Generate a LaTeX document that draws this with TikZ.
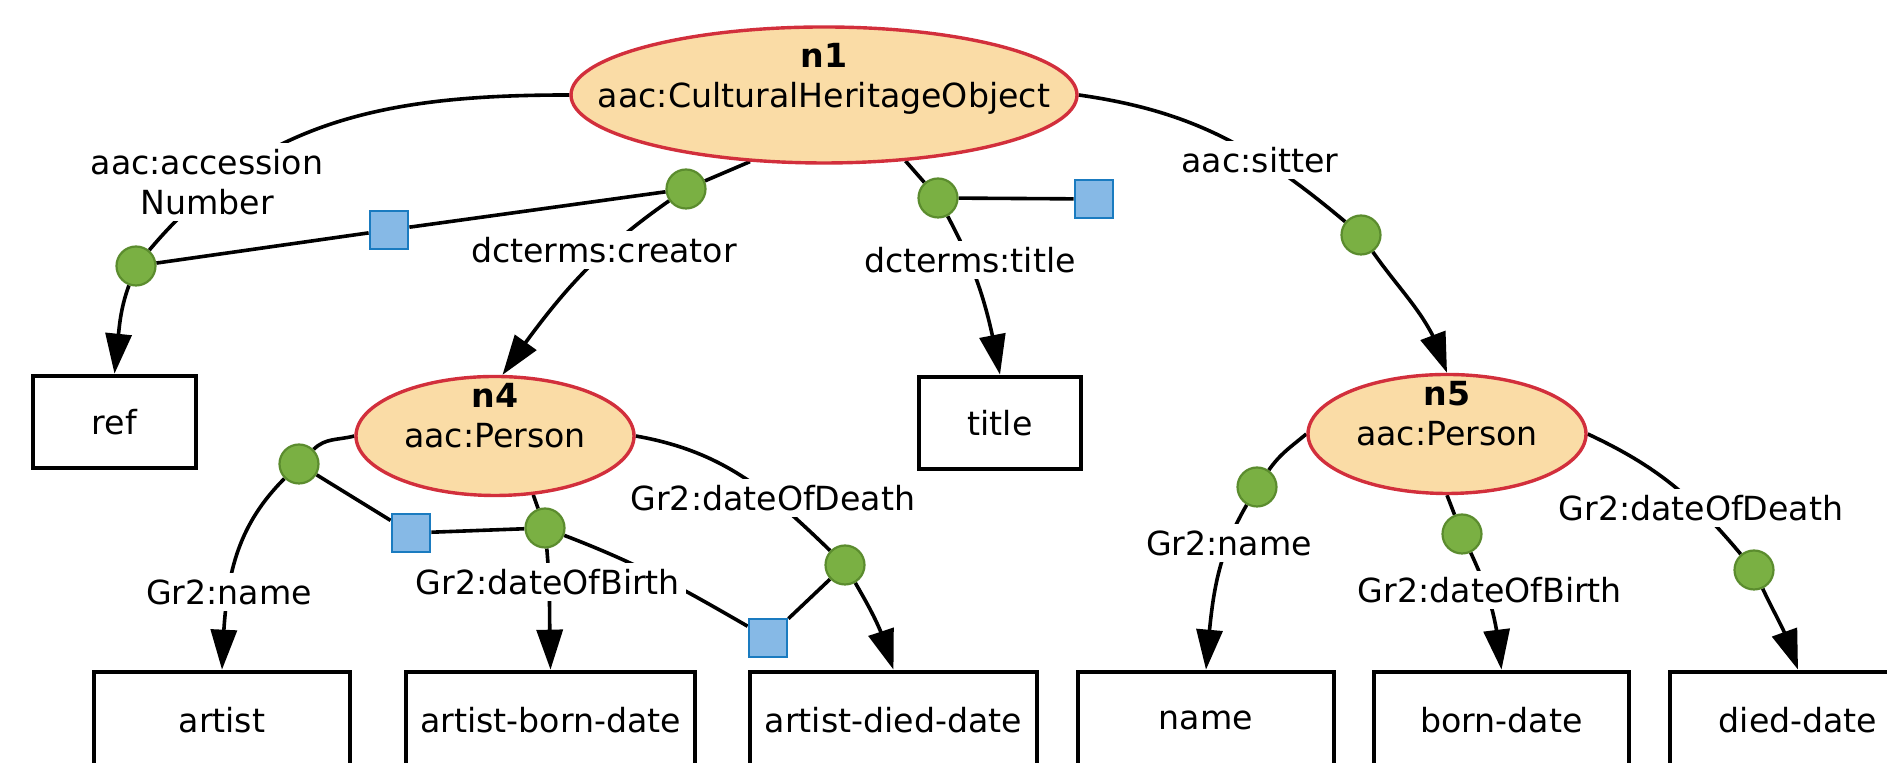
\documentclass[tikz,border=0pt]{standalone}
\usepackage{fontspec}
\setmainfont{DejaVu Sans}
\usetikzlibrary{shapes.geometric,arrows.meta,backgrounds,bending}
\definecolor{entfill}{HTML}{FADCA6}
\definecolor{entline}{HTML}{D22F3C}
\definecolor{dotfill}{HTML}{7AB043}
\definecolor{dotline}{HTML}{5B8C2E}
\definecolor{sqfill}{HTML}{86B9E6}
\definecolor{sqline}{HTML}{1A7BC0}
\newcommand\mylabfont{\fontsize{16.6}{20}\selectfont}
\begin{document}
\begin{tikzpicture}[x=0.5pt,y=0.5pt,
  ent/.style={ellipse, draw=entline, fill=entfill, line width=1.7pt, inner sep=0pt},
  lit/.style={rectangle, draw=black, line width=2.3pt, fill=white, font=\mylabfont, inner sep=0pt},
  gdot/.style={circle, draw=dotline, fill=dotfill, line width=1.1pt, minimum size=19.5pt, inner sep=0pt},
  bsq/.style={rectangle, draw=sqline, fill=sqfill, line width=1.4pt, minimum size=19pt, inner sep=0pt},
  lab/.style={font=\mylabfont, fill=white, inner sep=3pt, align=center},
  enttxt/.style={font=\mylabfont, align=center},
  edge/.style={line width=1.8pt},
  arr/.style={edge, -{Triangle[length=20pt,width=13pt,flex]}},
]
\useasboundingbox (0,0) rectangle (1887,763);

% class nodes
\node[ent, minimum width=253pt, minimum height=68pt,
  label={[enttxt, yshift=8pt]center:{\textbf{n1}\\aac:CulturalHeritageObject}}] (n1) at (824,668) {};
\node[ent, minimum width=139pt, minimum height=59.5pt,
  label={[enttxt, yshift=10pt]center:{\textbf{n4}\\aac:Person}}] (n4) at (495,327) {};
\node[ent, minimum width=139pt, minimum height=59.5pt,
  label={[enttxt, yshift=10pt]center:{\textbf{n5}\\aac:Person}}] (n5) at (1447,329) {};

% literal boxes
\node[lit, minimum width=81.5pt, minimum height=46pt] (ref) at (114.5,341) {ref};
\node[lit, minimum width=81pt, minimum height=46pt] (title) at (1000,340) {title};
\node[lit, minimum width=128pt, minimum height=48pt] (artist) at (222,43) {artist};
\node[lit, minimum width=144.5pt, minimum height=48pt] (abd) at (550.5,43) {artist-born-date};
\node[lit, minimum width=143.5pt, minimum height=48pt] (add) at (893.5,43) {artist-died-date};
\node[lit, minimum width=128pt, minimum height=48pt] (name) at (1206,43) {name};
\node[lit, minimum width=127.5pt, minimum height=48pt] (bd) at (1501.5,43) {born-date};
\node[lit, minimum width=128pt, minimum height=48pt] (dd) at (1798,43) {died-date};

% edge labels
\node[lab] (labAcc) at (207,581) {aac:accession\\Number};
\node[lab] (labCre) at (604,513) {dcterms:creator};
\node[lab] (labTit) at (970,503) {dcterms:title};
\node[lab] (labSit) at (1260,603) {aac:sitter};
\node[lab] (labName4) at (229,171) {Gr2:name};
\node[lab] (labDoB4) at (548,181) {Gr2:dateOfBirth};
\node[lab] (labDoD4) at (773,265) {Gr2:dateOfDeath};
\node[lab] (labName5) at (1229,220) {Gr2:name};
\node[lab] (labDoB5) at (1490,173) {Gr2:dateOfBirth};
\node[lab] (labDoD5) at (1701,255) {Gr2:dateOfDeath};

% green dots
\node[gdot] (dAcc) at (136,497) {};
\node[gdot] (dCre) at (686,574) {};
\node[gdot] (dTit) at (938,565) {};
\node[gdot] (dSit) at (1361,528) {};
\node[gdot] (dName4) at (299,299) {};
\node[gdot] (dDoB4) at (545,235) {};
\node[gdot] (dDoD4) at (845,198) {};
\node[gdot] (dName5) at (1257,276) {};
\node[gdot] (dDoB5) at (1462,229) {};
\node[gdot] (dDoD5) at (1754,193) {};

% blue squares
\node[bsq] (sq1) at (389,533) {};
\node[bsq] (sq2) at (1094,564) {};
\node[bsq] (sq3) at (411,230) {};
\node[bsq] (sq4) at (768,125) {};

\begin{scope}[on background layer]
  % n1 edges
  \draw[edge] (n1.west) to[out=180,in=50] (dAcc);
  \draw[arr] (dAcc) to[out=250,in=82] (ref.north);
  \draw[edge] (n1.222) -- (dCre);
  \draw[arr] (dCre) to[out=215,in=55] (n4.83);
  \draw[edge] (n1.-39) -- (dTit);
  \draw[arr] (dTit) to[out=-62,in=100] (title.north);
  \draw[edge] (n1.east) to[out=-8,in=140] (dSit);
  \draw[arr] (dSit) to[out=-55,in=105] (n5.north);
  % n4 edges
  \draw[edge] (n4.west) to[out=195,in=45] (dName4);
  \draw[arr] (dName4) to[out=225,in=88] (artist.north);
  \draw[edge] (n4.-57) -- (dDoB4);
  \draw[arr] (dDoB4) to[out=-85,in=92] (abd.north);
  \draw[edge] (n4.east) to[out=-10,in=136] (dDoD4);
  \draw[arr] (dDoD4) to[out=-60,in=105] (add.north);
  % n5 edges
  \draw[edge] (n5.west) to[out=220,in=55] (dName5);
  \draw[arr] (dName5) to[out=240,in=85] (name.north);
  \draw[edge] (n5.south) -- (dDoB5);
  \draw[arr] (dDoB5) to[out=-65,in=95] (bd.north);
  \draw[edge] (n5.east) to[out=-25,in=130] (dDoD5);
  \draw[arr] (dDoD5) to[out=-65,in=105] (dd.north);
  % links to squares
  \draw[edge] (dAcc) -- (sq1) -- (dCre);
  \draw[edge] (dTit) -- (sq2);
  \draw[edge] (dName4) -- (sq3) -- (dDoB4);
  \draw[edge] (dDoB4) to[out=-21,in=150] (sq4);
  \draw[edge] (sq4) -- (dDoD4);
\end{scope}
\end{tikzpicture}
\end{document}
